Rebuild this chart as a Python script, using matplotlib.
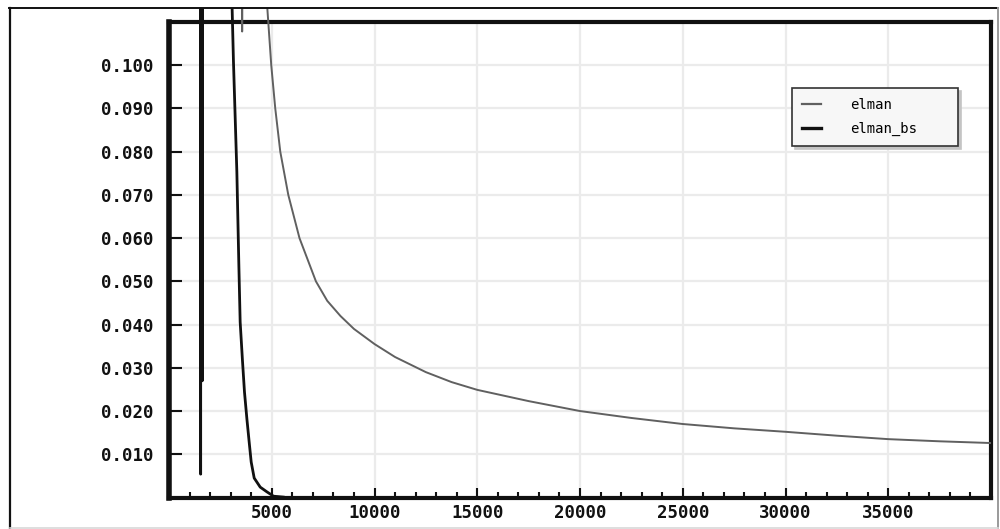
import matplotlib
matplotlib.use("Agg")
import matplotlib.pyplot as plt
from matplotlib.lines import Line2D
from matplotlib.ticker import MultipleLocator, FormatStrFormatter
from matplotlib.transforms import Bbox, TransformedBbox

# Training error per iteration
elman_iter = [0, 3540, 3560, 3580, 4760, 4780, 4976, 5171, 5415, 5805, 6350, 7150,
              7700, 8341, 9000, 10000, 11000, 12500, 13750, 15000, 17500, 20000, 22500,
              25000, 27500, 30000, 32500, 35000, 37500, 40000]
elman_err = [0.4, 0.4, 0.1078, 0.4, 0.4, 0.1135, 0.100, 0.090, 0.080, 0.070, 0.060, 0.050,
             0.0455, 0.0420, 0.0390, 0.0355, 0.0325, 0.0290, 0.0267, 0.0249, 0.0223,
             0.0200, 0.0184, 0.0170, 0.0160, 0.0152, 0.0143, 0.0135, 0.0130, 0.0126]

elman_bs_iter = [0, 1500, 1540, 1580, 1620, 1660, 3050, 3070, 3137, 3302, 3400, 3463,
                 3576, 3673, 3790, 3902, 4000, 4146, 4439, 4766, 5088, 5560]
elman_bs_err = [0.4, 0.4, 0.0054, 0.4, 0.027, 0.4, 0.4, 0.1135, 0.1008, 0.0753, 0.0536,
                0.0406, 0.0316, 0.0244, 0.0182, 0.0128, 0.0082, 0.0045, 0.0024, 0.0013,
                0.0003, 0.0001]

series_names = ["elman", "elman_bs"]
x_max = 40000
y_max = 0.110

W, H = 1000, 529
fig = plt.figure(figsize=(W / 100, H / 100), dpi=100)
fig.patch.set_facecolor("white")

ax = fig.add_axes([169 / W, 1 - 497.5 / H, (991 - 169) / W, (497.5 - 22) / H])

l1, = ax.plot(elman_iter, elman_err, color="#606060", lw=1.4, zorder=3)
l2, = ax.plot(elman_bs_iter, elman_bs_err, color="#111111", lw=2.0, zorder=4)

# curves may run above the plot area up to the outer frame
clip = TransformedBbox(Bbox([[169 / W, 1 - 497.5 / H], [991 / W, 1 - 8 / H]]), fig.transFigure)
for ln in (l1, l2):
    ln.set_clip_box(clip)

ax.set_xlim(0, x_max)
ax.set_ylim(0, y_max)
ax.xaxis.set_minor_locator(MultipleLocator(1000))
ax.yaxis.set_major_formatter(FormatStrFormatter("%.3f"))

xt = [t for t in range(5000, x_max, 5000)]
ax.set_xticks(xt)
ax.set_xticklabels([str(t) for t in xt])
yt = [round(0.01 * i, 3) for i in range(1, 11)]
ax.set_yticks(yt)

for lab in ax.get_xticklabels() + ax.get_yticklabels():
    lab.set_fontfamily("DejaVu Sans Mono")
    lab.set_fontweight("bold")
    lab.set_fontsize(12.5)
    lab.set_color("#111111")

ax.tick_params(axis="x", which="major", direction="in", length=7, width=1.5, pad=5, color="#111111")
ax.tick_params(axis="x", which="minor", direction="in", length=4, width=1.5, color="#111111")
ax.tick_params(axis="y", which="major", direction="in", length=9, width=1.5, pad=11, color="#111111")
ax.tick_params(axis="y", which="minor", left=False)

ax.grid(True, which="major", color="#ebebeb", lw=1.6, zorder=0)
ax.set_axisbelow(True)

for side, lw in (("left", 4), ("bottom", 3), ("top", 3), ("right", 3)):
    ax.spines[side].set_linewidth(lw)
    ax.spines[side].set_color("#111111")

# legend
handles = [Line2D([], [], color="#606060", lw=1.6),
           Line2D([], [], color="#111111", lw=2.4)]
lx0 = (792 - 169) / 822
lx1 = (958 - 169) / 822
ly1 = 1 - (88 - 22) / 475.5
ly0 = 1 - (145 - 22) / 475.5
leg = ax.legend(handles, series_names, loc="upper left",
                bbox_to_anchor=(lx0, ly0, lx1 - lx0, ly1 - ly0), mode="expand",
                prop=dict(family="DejaVu Sans Mono", size=10),
                frameon=True, fancybox=False,
                shadow=dict(color="#c4c4c4", alpha=1),
                handlelength=1.4, handletextpad=2.1, borderpad=0.7,
                labelspacing=0.75, borderaxespad=0)
leg.get_frame().set_facecolor("#f7f7f7")
leg.get_frame().set_edgecolor("#333333")
leg.get_frame().set_linewidth(1.2)
leg.get_frame().set_alpha(1)
leg.set_zorder(10)

# outer window frame
def fig_line(x0, y0, x1, y1, color, lw):
    fig.add_artist(Line2D([x0 / W, x1 / W], [1 - y0 / H, 1 - y1 / H],
                          transform=fig.transFigure, color=color, lw=lw))

fig_line(9, 8, 998, 8, "#111111", 1.4)
fig_line(10, 8, 10, 528, "#111111", 1.6)
fig_line(998, 8, 998, 528, "#9a9a9a", 1.4)
fig_line(10, 528, 998, 528, "#d8d8d8", 1.2)

fig.savefig("out.png", dpi=100)
